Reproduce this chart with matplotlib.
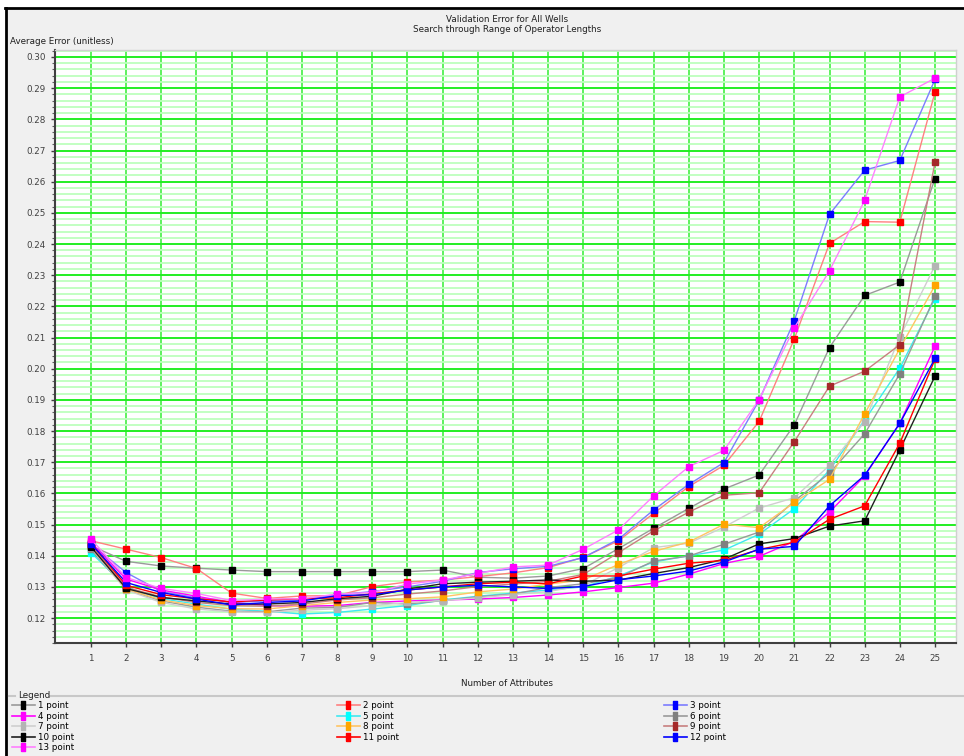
import numpy as np
import matplotlib
matplotlib.use("Agg")
import matplotlib.pyplot as plt
from matplotlib.lines import Line2D
from matplotlib.patches import Rectangle

# ---------------- data ----------------
attributes = list(range(1, 26))

series_names = ["1 point", "2 point", "3 point", "4 point", "5 point", "6 point", "7 point",
                "8 point", "9 point", "10 point", "11 point", "12 point", "13 point"]

p1 = [0.1432, 0.1382, 0.1367, 0.1360, 0.1354, 0.1349, 0.1349, 0.1349, 0.1349, 0.1349, 0.1354, 0.1331, 0.1328,
      0.1335, 0.1359, 0.1423, 0.1488, 0.1552, 0.1614, 0.1659, 0.1820, 0.2068, 0.2235, 0.2278, 0.2610]
p2 = [0.1448, 0.1421, 0.1394, 0.1359, 0.1280, 0.1263, 0.1271, 0.1272, 0.1301, 0.1316, 0.1322, 0.1333, 0.1345,
      0.1362, 0.1395, 0.1448, 0.1536, 0.1622, 0.1690, 0.1831, 0.2096, 0.2402, 0.2472, 0.2470, 0.2887]
p3 = [0.1437, 0.1346, 0.1285, 0.1265, 0.1250, 0.1255, 0.1258, 0.1275, 0.1285, 0.1300, 0.1318, 0.1346, 0.1358,
      0.1366, 0.1394, 0.1453, 0.1547, 0.1629, 0.1699, 0.1899, 0.2154, 0.2495, 0.2637, 0.2668, 0.2928]
p4 = [0.1442, 0.1325, 0.1290, 0.1270, 0.1250, 0.1240, 0.1238, 0.1240, 0.1250, 0.1255, 0.1258, 0.1261, 0.1266,
      0.1274, 0.1284, 0.1298, 0.1312, 0.1341, 0.1375, 0.1398, 0.1446, 0.1540, 0.1656, 0.1825, 0.2072]
p5 = [0.1410, 0.1300, 0.1262, 0.1245, 0.1228, 0.1222, 0.1213, 0.1218, 0.1229, 0.1240, 0.1258, 0.1270, 0.1280,
      0.1290, 0.1300, 0.1335, 0.1380, 0.1400, 0.1418, 0.1469, 0.1551, 0.1675, 0.1835, 0.2002, 0.2225]
p6 = [0.1420, 0.1292, 0.1255, 0.1235, 0.1222, 0.1220, 0.1232, 0.1234, 0.1250, 0.1245, 0.1256, 0.1268, 0.1277,
      0.1298, 0.1310, 0.1330, 0.1383, 0.1399, 0.1437, 0.1476, 0.1575, 0.1665, 0.1791, 0.1984, 0.2232]
p7 = [0.1425, 0.1290, 0.1250, 0.1229, 0.1220, 0.1218, 0.1225, 0.1230, 0.1240, 0.1250, 0.1256, 0.1265, 0.1275,
      0.1285, 0.1305, 0.1362, 0.1426, 0.1440, 0.1492, 0.1553, 0.1586, 0.1690, 0.1830, 0.2102, 0.2331]
p8 = [0.1430, 0.1293, 0.1258, 0.1240, 0.1230, 0.1229, 0.1240, 0.1250, 0.1258, 0.1262, 0.1268, 0.1284, 0.1293,
      0.1309, 0.1322, 0.1372, 0.1414, 0.1444, 0.1501, 0.1490, 0.1571, 0.1645, 0.1855, 0.2065, 0.2267]
p9 = [0.1435, 0.1298, 0.1268, 0.1250, 0.1240, 0.1238, 0.1245, 0.1258, 0.1265, 0.1277, 0.1287, 0.1301, 0.1309,
      0.1318, 0.1340, 0.1410, 0.1480, 0.1540, 0.1594, 0.1602, 0.1766, 0.1944, 0.1992, 0.2077, 0.2662]
p10 = [0.1428, 0.1295, 0.1266, 0.1255, 0.1245, 0.1245, 0.1250, 0.1262, 0.1270, 0.1293, 0.1310, 0.1315, 0.1318,
       0.1322, 0.1318, 0.1322, 0.1343, 0.1362, 0.1389, 0.1438, 0.1455, 0.1495, 0.1512, 0.1740, 0.1976]
p11 = [0.1440, 0.1305, 0.1275, 0.1262, 0.1252, 0.1258, 0.1262, 0.1265, 0.1278, 0.1290, 0.1300, 0.1310, 0.1315,
       0.1310, 0.1335, 0.1335, 0.1357, 0.1376, 0.1385, 0.1420, 0.1443, 0.1517, 0.1560, 0.1761, 0.2030]
p12 = [0.1438, 0.1314, 0.1282, 0.1261, 0.1242, 0.1250, 0.1255, 0.1272, 0.1275, 0.1290, 0.1300, 0.1305, 0.1300,
       0.1295, 0.1301, 0.1323, 0.1335, 0.1351, 0.1380, 0.1421, 0.1430, 0.1560, 0.1658, 0.1825, 0.2033]
p13 = [0.1453, 0.1330, 0.1295, 0.1279, 0.1256, 0.1261, 0.1262, 0.1277, 0.1282, 0.1309, 0.1322, 0.1343, 0.1364,
       0.1370, 0.1421, 0.1483, 0.1592, 0.1686, 0.1738, 0.1901, 0.2131, 0.2314, 0.2540, 0.2872, 0.2932]

series_values = [p1, p2, p3, p4, p5, p6, p7, p8, p9, p10, p11, p12, p13]

y_ticks = [0.12, 0.13, 0.14, 0.15, 0.16, 0.17, 0.18, 0.19, 0.20, 0.21,
           0.22, 0.23, 0.24, 0.25, 0.26, 0.27, 0.28, 0.29, 0.30]

title_lines = ["Validation Error for All Wells", "Search through Range of Operator Lengths"]
y_label = "Average Error (unitless)"
x_label = "Number of Attributes"

# ---------------- style ----------------
marker_colors = ["#000000", "#FF0000", "#0000FF", "#FF00FF", "#00FFFF", "#808080", "#B4B4B4",
                 "#FFA500", "#A52A2A", "#000000", "#FF0000", "#0000FF", "#FF00FF"]
line_colors = ["#9A9A9A", "#FF8080", "#7C7CFF", "#FF00FF", "#40E8F0", "#9A9A9A", "#CFCFCF",
               "#FFC464", "#C88080", "#202020", "#FF0000", "#0000FF", "#FF80FF"]

W, H = 964, 756
fig = plt.figure(figsize=(W / 100, H / 100), dpi=100, facecolor="white")

# panel background and black window border
fig.add_artist(Rectangle((6 / W, 0), 1 - 6 / W, 1 - 8 / H, transform=fig.transFigure,
                         facecolor="#F0F0F0", edgecolor="none", zorder=-10))
fig.add_artist(Line2D([5 / W, 1], [1 - 8 / H, 1 - 8 / H], transform=fig.transFigure, color="black", lw=2))
fig.add_artist(Line2D([6 / W, 6 / W], [0, 1 - 8 / H], transform=fig.transFigure, color="black", lw=2))

ax_left, ax_right, ax_top, ax_bottom = 55, 956, 50, 643
ax = fig.add_axes([ax_left / W, 1 - ax_bottom / H, (ax_right - ax_left) / W, (ax_bottom - ax_top) / H])
ax.set_facecolor("white")

for vals, mc, lc, name in zip(series_values, marker_colors, line_colors, series_names):
    ax.plot(attributes, vals, color=lc, lw=1.0, marker="s", markersize=4.2,
            markerfacecolor=mc, markeredgecolor=mc, label=name, zorder=3)

ax.set_xlim(1 - 36 / 35.167, 25 + 21 / 35.167)
ax.set_ylim(0.12 - 24 / 3122, 0.30 + 7 / 3122)
ax.set_xticks(attributes)
ax.set_xticklabels([str(a) for a in attributes])
ax.set_yticks(y_ticks)
ax.set_yticklabels([f"{t:.2f}" for t in y_ticks])
ax.set_yticks(np.arange(0.112, 0.3022, 0.002), minor=True)

ax.grid(which="minor", axis="y", color="#BDFFBD", lw=1.3, zorder=0)
ax.grid(which="major", axis="y", color="#22EE22", lw=1.4, zorder=1)
ax.grid(which="major", axis="x", color="#33EE33", lw=1.1, zorder=1)
ax.set_axisbelow(True)

ax.tick_params(axis="both", which="major", labelsize=6.3, colors="#404040", length=3, width=1)
ax.tick_params(axis="y", which="minor", length=2, width=0.8, colors="#606060")
ax.tick_params(axis="x", which="major", pad=5)
for s in ["left", "bottom"]:
    ax.spines[s].set_color("#404040")
    ax.spines[s].set_linewidth(1.5)
for s in ["top", "right"]:
    ax.spines[s].set_color("#D0D0D0")
    ax.spines[s].set_linewidth(1.0)

# texts
fig.text(507 / W, 1 - 19 / H, title_lines[0], ha="center", va="center", fontsize=6.3, color="#202020")
fig.text(507 / W, 1 - 30 / H, title_lines[1], ha="center", va="center", fontsize=6.3, color="#202020")
fig.text(10 / W, 1 - 41 / H, y_label, ha="left", va="center", fontsize=6.3, color="#202020")
fig.text(507 / W, 1 - 684 / H, x_label, ha="center", va="center", fontsize=6.3, color="#202020")

# legend group box
fig.text(18 / W, 1 - 695 / H, "Legend", ha="left", va="center", fontsize=6.3, color="#202020")
fig.add_artist(Line2D([9 / W, 15 / W], [1 - 696 / H] * 2, transform=fig.transFigure, color="#C8C8C8", lw=1.5))
fig.add_artist(Line2D([50 / W, 1], [1 - 696 / H] * 2, transform=fig.transFigure, color="#C8C8C8", lw=1.5))

bar_marker = [(-0.45, -1), (0.45, -1), (0.45, 1), (-0.45, 1), (-0.45, -1)]
columns = [[0, 3, 6, 9, 12], [1, 4, 7, 10], [2, 5, 8, 11]]
col_x = [12, 337, 664]
for cx, idxs in zip(col_x, columns):
    hs = []
    for i in idxs:
        hs.append(Line2D([], [], color=line_colors[i], lw=1.2, marker=bar_marker, markersize=6.0,
                         markerfacecolor=marker_colors[i], markeredgecolor=marker_colors[i]))
    fig.legend(hs, [series_names[i] for i in idxs], loc="upper left",
               bbox_to_anchor=(cx / W, 1 - 701 / H), frameon=False, fontsize=6.3,
               handlelength=2.6, handletextpad=0.4, labelspacing=0.18, borderpad=0.0,
               borderaxespad=0.0)

fig.savefig("out.png", dpi=100, facecolor=fig.get_facecolor())
